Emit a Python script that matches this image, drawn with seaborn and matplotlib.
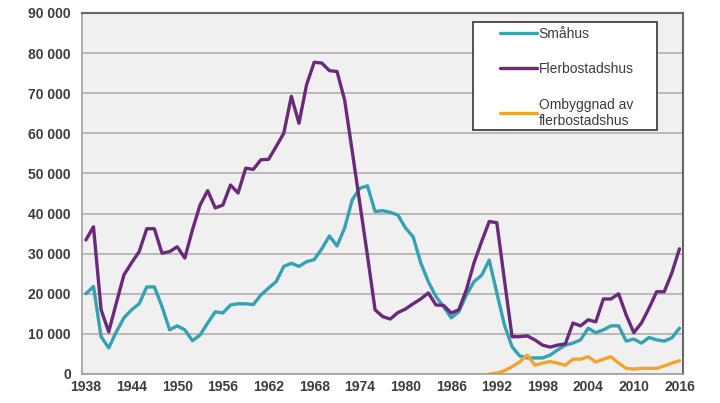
import numpy as np
import pandas as pd
import seaborn as sns
import matplotlib.pyplot as plt
from matplotlib.patches import Rectangle
from matplotlib.ticker import FuncFormatter, FixedLocator

# %%
ar = list(range(1938, 2017))

smahus = [20000, 21800, 9300, 6500, 10500, 14000, 16000, 17500, 21700, 21700,
          16800, 11000, 12000, 11000, 8300, 9700, 12700, 15500, 15200, 17200,
          17500, 17500, 17300, 19700, 21400, 23000, 26800, 27600, 26800, 28000,
          28500, 31200, 34400, 31900, 36400, 43400, 46300, 46900, 40500, 40700,
          40300, 39600, 36400, 34200, 27700, 23000, 19300, 16800, 14000, 15500,
          19700, 23000, 24600, 28400, 20200, 12200, 6800, 4500, 4000, 4000,
          4000, 4700, 6000, 7200, 7700, 8500, 11400, 10300, 11000, 12000,
          12000, 8200, 8700, 7700, 9100, 8500, 8200, 9000, 11400]

flerbostadshus = [33400, 36700, 16000, 10500, 17700, 24700, 27700, 30500, 36200, 36200,
                  30100, 30500, 31700, 28900, 35900, 42100, 45700, 41400, 42100, 47100,
                  45100, 51300, 51000, 53400, 53500, 56700, 60000, 69200, 62500, 72100,
                  77700, 77500, 75600, 75400, 68300, 55500, 42500, 29500, 16000, 14300,
                  13700, 15300, 16200, 17500, 18700, 20200, 17200, 17100, 15200, 16000,
                  21000, 27700, 33000, 38000, 37700, 23400, 9300, 9300, 9500, 8500,
                  7200, 6700, 7200, 7500, 12700, 12000, 13500, 13000, 18700, 18700,
                  20000, 14700, 10300, 12700, 16400, 20500, 20500, 25200, 31200]

ombyggnad_ar = list(range(1991, 2017))
ombyggnad = [0, 200, 800, 1800, 3000, 4700, 2200, 2700, 3100, 2700,
             2200, 3700, 3700, 4300, 3000, 3700, 4300, 2700, 1400, 1200,
             1400, 1400, 1400, 2000, 2700, 3300]

serier = ['Småhus', 'Flerbostadshus', 'Ombyggnad av\nflerbostadshus']
farger = ['#34a2b2', '#6a2a7a', '#f2a52e']
xetiketter = list(range(1938, 2017, 6))
yetiketter = list(range(0, 90001, 10000))

# %%
df = pd.concat([
    pd.DataFrame({'ar': ar, 'antal': smahus, 'typ': serier[0]}),
    pd.DataFrame({'ar': ar, 'antal': flerbostadshus, 'typ': serier[1]}),
    pd.DataFrame({'ar': ombyggnad_ar, 'antal': ombyggnad, 'typ': serier[2]}),
])

# %%
sns.set_style('white')
plt.rcParams['font.family'] = ['Liberation Sans', 'DejaVu Sans']

fig = plt.figure(figsize=(7.2, 4.03), dpi=100)
ax = fig.add_axes([0.114, 0.072, 0.835, 0.896])
ax.set_facecolor('#f0f0f0')

sns.lineplot(data=df, x='ar', y='antal', hue='typ', hue_order=serier,
             palette=farger, linewidth=2.4, ax=ax)

ax.set_xlim(1937.5, 2016.5)
ax.set_ylim(0, 90000)
ax.set_xticks(xetiketter)
ax.xaxis.set_minor_locator(FixedLocator(np.arange(1937.5, 2017, 4)))
ax.set_yticks(yetiketter)
ax.yaxis.set_major_formatter(FuncFormatter(lambda v, p: f'{int(v):,}'.replace(',', ' ')))
ax.tick_params(axis='x', which='major', length=0, pad=4, labelsize=10, labelcolor='#3c3c3c')
ax.tick_params(axis='x', which='minor', length=4, color='#999999', direction='out')
ax.tick_params(axis='y', length=5, color='#999999', direction='out', pad=3,
               labelsize=10, labelcolor='#3c3c3c')
for lab in ax.get_xticklabels() + ax.get_yticklabels():
    lab.set_fontweight('bold')

ax.grid(axis='y', color='#b4aeae', linewidth=1.2)
ax.set_axisbelow(True)
for side in ['left', 'bottom']:
    ax.spines[side].set_color('#a0a0a0')
    ax.spines[side].set_linewidth(1.2)
for side in ['top', 'right']:
    ax.spines[side].set_color('#666666')
    ax.spines[side].set_linewidth(1.5)

ax.set_xlabel('')
ax.set_ylabel('')

# legendruta
ax.add_patch(Rectangle((0.651, 0.676), 0.306, 0.299, transform=ax.transAxes,
                       facecolor='white', edgecolor='#444444', linewidth=1.3, zorder=4))
leg = ax.legend(loc='upper left', bbox_to_anchor=(0.695, 0.962), frameon=False,
                fontsize=10, handlelength=2.7, handletextpad=0.1, labelspacing=1.55,
                borderpad=0, borderaxespad=0)
leg.set_zorder(5)
for line in leg.get_lines():
    line.set_linewidth(2.4)
for t in leg.get_texts():
    t.set_color('#3c3c3c')

fig.savefig('out.png', dpi=100)
